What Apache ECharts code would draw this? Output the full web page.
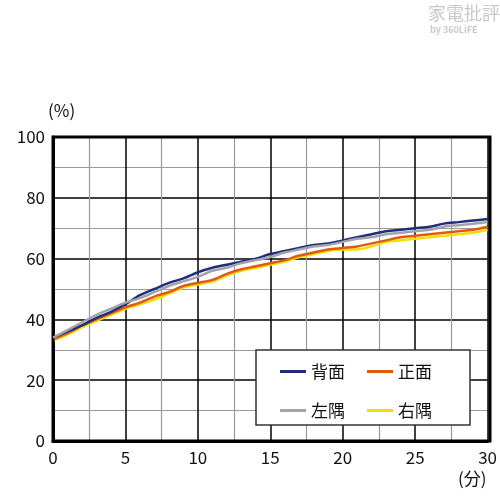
<!DOCTYPE html><html><head><meta charset="utf-8"><script src="https://cdn.jsdelivr.net/npm/echarts@6/dist/echarts.min.js"></script></head><body style="margin:0"><div id="c" style="width:500px;height:497px"></div><script>
const minutes=[...Array(31).keys()];
const seriesNames=['背面','正面','左隅','右隅'];
const back=[34,36,38,40.5,42.5,45,48,50,52,53.5,55.5,57,58,59,60,61.5,62.5,63.5,64.5,65,66,67,68,69,69.5,70,70.5,71.5,72,72.5,73];
const front=[33.5,35.5,38,40,42,44,45.5,47.5,49,51,52,53,55,56.5,57.5,58.5,59.5,61,62,63,63.5,64,65,66,67,67.5,68,68.5,69,69.5,70.5];
const left=[34,36.5,39,41.5,43.5,45.5,47,49,51,52.5,54,56,57,58.5,59.5,60.5,62,63,64,64.5,65.5,66.5,67,68,68.5,69,69.5,70.5,71,71.5,72];
const right=[33,35,37.5,39.5,41.5,43.5,45,46.5,48.5,50.5,51.5,52.5,54.5,56,57,58,59,60.5,61.5,62.5,63,63,64,65.5,66,66.5,67,67.5,68,68.5,69.5];
const colors=['#1f2e7a','#e05a12','#a3a3ab','#f3de00'];
const data=[back,front,left,right];
const ch=echarts.init(document.getElementById('c'));
const f='"Noto Sans CJK JP",sans-serif';
ch.setOption({
 animation:false,
 grid:{left:53,right:10,top:137,bottom:56},
 graphic:[
  {type:'text',left:428,top:4,style:{text:'家電批評',fill:'#c8c8c8',font:'18px '+f}},
  {type:'text',left:430,top:25,style:{text:'by 360LiFE',fill:'#c8c8c8',font:'bold 9px '+f}},
  {type:'text',left:48,top:102,style:{text:'(%)',fill:'#111',font:'17px '+f}},
  {type:'text',left:458,top:470,style:{text:'(分)',fill:'#111',font:'17px '+f}},
  {type:'rect',shape:{x:256,y:350,width:214,height:75},style:{fill:'#fff',stroke:'#333',lineWidth:1.5},z:10}
 ],
 legend:{left:275,top:358,width:190,itemGap:22,itemWidth:26,itemHeight:3,z:20,
   textStyle:{fontSize:17,fontFamily:f,color:'#111'},
   data:seriesNames.map(n=>({name:n,icon:'rect'}))},
 xAxis:{type:'value',min:0,max:30,interval:5,
  axisLine:{onZero:false,lineStyle:{color:'#000',width:3}},axisTick:{show:false},
  axisLabel:{fontSize:17,fontFamily:f,color:'#111',formatter:v=>v==30?'30':v},
  splitLine:{lineStyle:{color:'#000',width:1.5}},
  minorTick:{show:false,splitNumber:2},minorSplitLine:{show:true,lineStyle:{color:'#999',width:1.2}}},
 yAxis:{type:'value',min:0,max:100,interval:20,
  axisLine:{show:true,lineStyle:{color:'#000',width:3}},axisTick:{show:false},
  axisLabel:{fontSize:17,fontFamily:f,color:'#111'},
  splitLine:{lineStyle:{color:'#000',width:1.5}},
  minorTick:{show:false,splitNumber:2},minorSplitLine:{show:true,lineStyle:{color:'#999',width:1.2}}},
 series:seriesNames.map((n,i)=>({name:n,type:'line',showSymbol:false,smooth:0.3,
   data:minutes.map((m,j)=>[m,data[i][j]]),lineStyle:{width:2.5,color:colors[i]},itemStyle:{color:colors[i]},z:[4,3,5,2][i]}))
});
// border lines on top/right
ch.setOption({graphic:ch.getOption().graphic[0].elements.concat([{type:'rect',shape:{x:53,y:137,width:437,height:304},style:{fill:'none',stroke:'#000',lineWidth:3},z:5}])});
</script></body></html>
